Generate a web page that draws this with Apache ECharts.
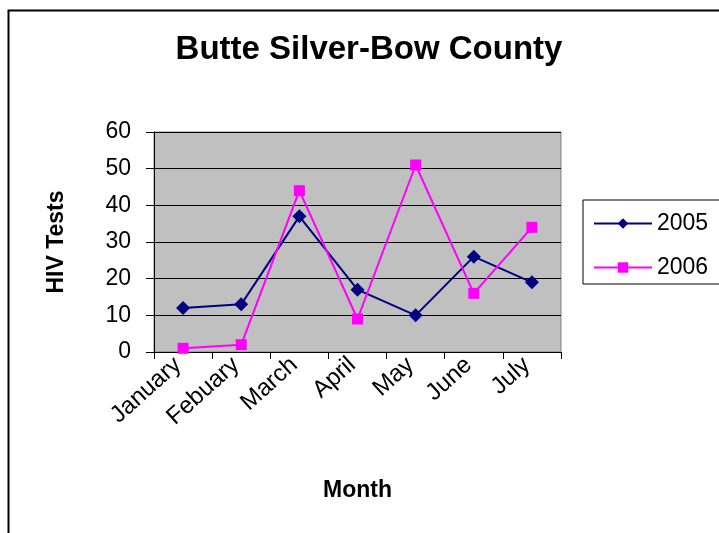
<!DOCTYPE html>
<html>
<head>
<meta charset="utf-8">
<script src="https://cdn.jsdelivr.net/npm/echarts@6/dist/echarts.min.js"></script>
<style>
  html, body { margin: 0; padding: 0; background: #ffffff; }
  #chart { width: 719px; height: 533px; }
</style>
</head>
<body>
<div id="chart"></div>
<script>
// Monthly HIV test counts, Butte Silver-Bow County
const months = ['January', 'Febuary', 'March', 'April', 'May', 'June', 'July'];
const tests2005 = [12, 13, 37, 17, 10, 26, 19];
const tests2006 = [1, 2, 44, 9, 51, 16, 34];
const yTicks = [0, 10, 20, 30, 40, 50, 60];

const FONT = 'Liberation Sans, Arial, Helvetica, sans-serif';

const chart = echarts.init(document.getElementById('chart'), null, { renderer: 'canvas' });

chart.setOption({
  backgroundColor: '#ffffff',
  animation: false,
  title: {
    text: 'Butte Silver-Bow County',
    left: 364,
    top: 28,
    textAlign: 'center',
    textStyle: { fontFamily: FONT, fontSize: 33, fontWeight: 'bold', color: '#000' }
  },
  graphic: [
    {
      // outer chart frame
      type: 'rect',
      left: 6, top: 8,
      shape: { width: 730, height: 540 },
      style: { fill: 'none', stroke: '#000', lineWidth: 2 },
      z: 0
    }
  ],
  legend: {
    orient: 'vertical',
    left: 583,
    top: 200,
    padding: [12, 13, 5, 10],
    itemGap: 21,
    itemWidth: 58,
    itemHeight: 13,
    borderColor: '#000',
    borderWidth: 1,
    textStyle: { fontFamily: FONT, fontSize: 23, color: '#000' },
    data: ['2005', '2006']
  },
  grid: {
    left: 154,
    right: 158,
    top: 132,
    height: 220,
    show: true,
    backgroundColor: '#c0c0c0',
    borderColor: '#808080',
    borderWidth: 1
  },
  xAxis: {
    type: 'category',
    data: months,
    boundaryGap: true,
    name: 'Month',
    nameLocation: 'middle',
    nameGap: 127,
    nameTextStyle: { fontFamily: FONT, fontSize: 23, fontWeight: 'bold', color: '#000' },
    axisLine: { lineStyle: { color: '#000', width: 1 } },
    axisTick: { show: true, length: 7, alignWithLabel: false, lineStyle: { color: '#000' } },
    axisLabel: {
      rotate: 42,
      margin: 5,
      interval: 0,
      padding: [0, 7, 0, 0],
      fontFamily: FONT,
      fontSize: 24,
      color: '#000'
    },
    splitLine: { show: false }
  },
  yAxis: {
    type: 'value',
    min: yTicks[0],
    max: yTicks[yTicks.length - 1],
    interval: 10,
    name: 'HIV Tests',
    nameLocation: 'middle',
    nameRotate: 90,
    nameGap: 86,
    nameTextStyle: { fontFamily: FONT, fontSize: 23, fontWeight: 'bold', color: '#000' },
    axisLine: { show: true, lineStyle: { color: '#000', width: 1 } },
    axisTick: { show: true, length: 8, lineStyle: { color: '#000' } },
    axisLabel: { margin: 23, fontFamily: FONT, fontSize: 23, color: '#000' },
    splitLine: { show: true, lineStyle: { color: '#000', width: 1 } }
  },
  series: [
    {
      name: '2005',
      type: 'line',
      data: tests2005,
      symbol: 'diamond',
      symbolSize: 14,
      lineStyle: { color: '#000080', width: 2 },
      itemStyle: { color: '#000080' },
      z: 3
    },
    {
      name: '2006',
      type: 'line',
      data: tests2006,
      symbol: 'rect',
      symbolSize: 11,
      lineStyle: { color: '#ff00ff', width: 2 },
      itemStyle: { color: '#ff00ff' },
      z: 4
    }
  ]
});
</script>
</body>
</html>
